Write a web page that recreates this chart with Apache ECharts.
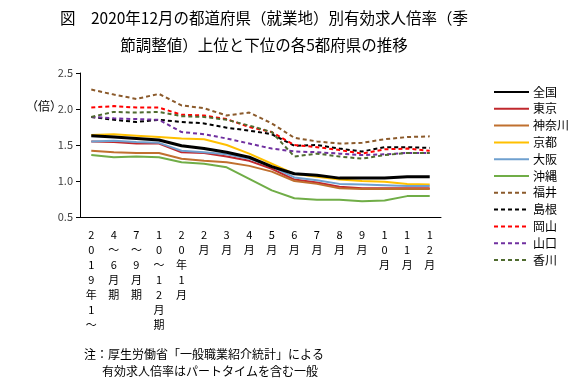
<!DOCTYPE html>
<html><head><meta charset="utf-8">
<script src="https://cdn.jsdelivr.net/npm/echarts@6/dist/echarts.min.js"></script>
<style>html,body{margin:0;padding:0;background:#fff}#c{width:580px;height:390px}</style>
</head><body><div id="c"></div>
<script>
const categories = ['2019年1～','4～6月期','7～9月期','10～12月期','20年1月','2月','3月','4月','5月','6月','7月','8月','9月','10月','11月','12月'];
const yTicks = [0.5, 1.0, 1.5, 2.0, 2.5];
const names = ['全国','東京','神奈川','京都','大阪','沖縄','福井','島根','岡山','山口','香川'];
const zenkoku   = [1.63,1.61,1.59,1.57,1.49,1.45,1.40,1.33,1.20,1.10,1.08,1.04,1.04,1.04,1.06,1.06];
const tokyo     = [1.55,1.54,1.52,1.52,1.40,1.39,1.34,1.28,1.17,1.02,0.98,0.92,0.90,0.90,0.90,0.90];
const kanagawa  = [1.42,1.40,1.39,1.39,1.31,1.28,1.26,1.21,1.13,1.00,0.96,0.90,0.89,0.89,0.89,0.89];
const kyoto     = [1.64,1.65,1.63,1.61,1.59,1.58,1.50,1.38,1.24,1.10,1.06,1.02,1.00,0.99,0.96,0.95];
const osaka     = [1.55,1.56,1.54,1.53,1.42,1.40,1.37,1.31,1.20,1.05,1.01,0.96,0.95,0.94,0.93,0.93];
const okinawa   = [1.36,1.33,1.34,1.33,1.26,1.24,1.19,1.03,0.87,0.76,0.74,0.74,0.72,0.73,0.79,0.79];
const fukui     = [2.27,2.20,2.14,2.21,2.05,2.01,1.91,1.95,1.80,1.60,1.55,1.52,1.53,1.58,1.61,1.62];
const shimane   = [1.89,1.85,1.82,1.85,1.82,1.80,1.74,1.70,1.65,1.49,1.50,1.45,1.41,1.47,1.47,1.46];
const okayama   = [2.02,2.04,2.02,2.02,1.92,1.91,1.86,1.75,1.68,1.50,1.47,1.43,1.38,1.44,1.45,1.42];
const yamaguchi = [1.89,1.87,1.86,1.85,1.68,1.65,1.59,1.52,1.45,1.41,1.40,1.38,1.36,1.37,1.39,1.39];
const kagawa    = [1.89,1.96,1.95,1.96,1.90,1.89,1.85,1.77,1.68,1.34,1.38,1.34,1.31,1.36,1.39,1.39];

const seriesData = [zenkoku,tokyo,kanagawa,kyoto,osaka,okinawa,fukui,shimane,okayama,yamaguchi,kagawa];
const colors = ['#000000','#C0282D','#C0702F','#FFC000','#6FA0CF','#70AD47','#8B5A2B','#000000','#FF0000','#7030A0','#4F6B2F'];
const dashed = [false,false,false,false,false,false,true,true,true,true,true];
const FONT = '"Noto Sans CJK JP", sans-serif';

const chart = echarts.init(document.getElementById('c'), null, {renderer:'canvas'});
chart.setOption({
  animation: false,
  backgroundColor: '#fff',
  title: {
    text: '図　2020年12月の都道府県（就業地）別有効求人倍率（季\n節調整値）上位と下位の各5都府県の推移',
    left: 259, top: 0, textAlign: 'center',
    textStyle: {fontFamily: FONT, fontSize: 15.5, fontWeight: 'normal', color: '#000', lineHeight: 27}
  },
  graphic: [
    {type:'text', left: 26, top: 100, style:{text:'（倍）', font:'12px ' + FONT, fill:'#000'}},
    {type:'text', left: 84, top: 348, style:{text:'注：厚生労働省「一般職業紹介統計」による', font:'12px ' + FONT, fill:'#000'}},
    {type:'text', left: 102, top: 365, style:{text:'有効求人倍率はパートタイムを含む一般', font:'12px ' + FONT, fill:'#000'}}
  ],
  legend: {
    orient: 'vertical', left: 493, top: 86, padding: 0,
    itemWidth: 35, itemHeight: 12, itemGap: 4.8,
    data: names,
    itemStyle: {color: 'transparent', borderColor: 'transparent', borderWidth: 0, opacity: 0},
    textStyle: {fontFamily: FONT, fontSize: 12, color: '#000', padding:[0,0,0,-1]}
  },
  grid: {left: 80, right: 139, top: 73, bottom: 173, containLabel: false},
  xAxis: {
    type: 'category', data: categories, boundaryGap: true,
    axisLine: {lineStyle: {color: '#000', width: 1}},
    axisTick: {show: false},
    axisLabel: {
      interval: 0, margin: 10, verticalAlign: 'top',
      fontFamily: FONT, fontSize: 11, color: '#000', lineHeight: 15,
      formatter: v => v.split('').join('\n')
    }
  },
  yAxis: {
    type: 'value', min: 0.5, max: 2.5, interval: 0.5,
    axisLine: {show: true, lineStyle: {color: '#000', width: 1}},
    axisTick: {show: true, length: 4, lineStyle: {color: '#000'}},
    splitLine: {show: false},
    axisLabel: {margin: 7, fontFamily: FONT, fontSize: 11, color: '#404040',
      formatter: v => yTicks.includes(v) ? v.toFixed(1) : ''}
  },
  series: names.map((n, i) => ({
    name: n, type: 'line', data: seriesData[i],
    symbol: 'none', showSymbol: false,
    z: i === 0 ? 5 : 2,
    itemStyle: {color: colors[i]},
    lineStyle: {color: colors[i], width: i === 0 ? 3 : 2, type: dashed[i] ? [4, 3] : 'solid'}
  }))
});
</script></body></html>
